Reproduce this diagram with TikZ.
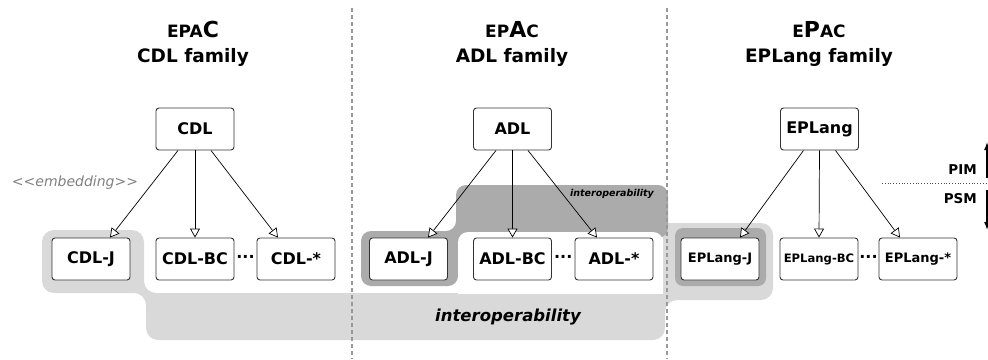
\documentclass[tikz,border=0pt]{standalone}
\usepackage{fontspec}
\setmainfont{DejaVu Sans}
\usetikzlibrary{arrows.meta,calc}

\colorlet{lightfill}{black!15}
\colorlet{darkfill}{black!33}
\colorlet{sepline}{black!40}

\newcommand{\fsz}[1]{\fontsize{#1}{#1}\selectfont}

\begin{document}
\begin{tikzpicture}[x=1pt,y=-1pt,
  langbox/.style={draw=black!80, line width=0.9pt, rounded corners=3pt, fill=white,
    minimum width=78pt, minimum height=42pt, inner sep=0pt, font=\bfseries\fsz{16}},
  smallbox/.style={langbox, font=\bfseries\fsz{13}},
  tinybox/.style={langbox, font=\bfseries\fsz{11.6}},
  gen/.style={line width=0.7pt, -{Triangle[length=9pt,width=10pt,fill=white]}},
  sep/.style={draw=sepline, line width=1.8pt, dash pattern=on 4pt off 3pt},
  ttl/.style={anchor=base, font=\bfseries, inner sep=0pt},
  dots/.style={font=\bfseries\fsz{16}, inner sep=0pt},
]
\useasboundingbox (0,0) rectangle (988,359);

% light interoperability region (CDL-J, band, EPLang-J)
\fill[lightfill, rounded corners=12pt]
  (42,230) -- (144,230) -- (144,293) -- (663,293) [sharp corners] -- (663,223)
  [rounded corners=12pt] -- (773,223) -- (773,300) -- (665,300) -- (665,340)
  -- (146,340) -- (146,293) -- (42,293) -- cycle;

% dark interoperability region (ADL-J and upper band)
\fill[darkfill, rounded corners=10pt]
  (361,286) -- (361,231) -- (456,231) -- (456,185) -- (668,185) -- (668,238)
  -- (458,238) -- (458,286) -- cycle;
\begin{scope}
  \clip (0,0) rectangle (988,293);
  \fill[white, rounded corners=10pt] (458,232) rectangle (663,320);
\end{scope}
\fill[darkfill, rounded corners=8pt] (675,228) rectangle (766,286);

% separators between the families
\draw[sep] (352,8) -- (352,359);
\draw[sep] (667,8) -- (667,359);

% titles
\node[ttl] (t1a) at (193,37) {{\fsz{17}EPA}{\fsz{22}C}};
\node[ttl, font=\bfseries\fsz{18.5}] (t1b) at (193,62) {CDL family};
\node[ttl] (t2a) at (512,37) {{\fsz{17}EP}{\fsz{22}A}{\fsz{17}C}};
\node[ttl, font=\bfseries\fsz{18.5}] (t2b) at (512,62) {ADL family};
\node[ttl] (t3a) at (819,37) {{\fsz{17}E}{\fsz{22}P}{\fsz{17}AC}};
\node[ttl, font=\bfseries\fsz{18.5}] (t3b) at (819,62) {EPLang family};

% language boxes
\node[langbox] (CDL) at (195,129) {CDL};
\node[langbox] (ADL) at (512.5,129) {ADL};
\node[langbox] (EPL) at (819.5,129) {EPLang};

\node[langbox] (CDLJ) at (91,259) {CDL-J};
\node[langbox] (CDLBC) at (195,259) {CDL-BC};
\node[langbox] (CDLS) at (296,259) {CDL-*};
\node[langbox] (ADLJ) at (408.5,259) {ADL-J};
\node[langbox] (ADLBC) at (512.5,259) {ADL-BC};
\node[langbox] (ADLS) at (614,259) {ADL-*};
\node[smallbox] (EPLJ) at (720,259) {EPLang-J};
\node[tinybox] (EPLBC) at (819,259) {EPLang-BC};
\node[smallbox] (EPLS) at (918,259) {EPLang-*};

\node[dots] (d1) at ($(CDLBC.east)!0.5!(CDLS.west)$) {···};
\node[dots] (d2) at ($(ADLBC.east)!0.5!(ADLS.west)$) {···};
\node[dots] (d3) at ($(EPLBC.east)!0.5!(EPLS.west)$) {···};

% generalisation arrows
\draw[gen] ([xshift=-17pt]CDL.south) -- ([xshift=19pt]CDLJ.north);
\draw[gen] (CDL.south) -- (CDLBC.north);
\draw[gen] ([xshift=16pt]CDL.south) -- ([xshift=-18pt]CDLS.north);
\draw[gen] ([xshift=-16.5pt]ADL.south) -- ([xshift=19.5pt]ADLJ.north);
\draw[gen] (ADL.south) -- (ADLBC.north);
\draw[gen] ([xshift=15.5pt]ADL.south) -- ([xshift=-17pt]ADLS.north);
\draw[gen] ([xshift=-16pt]EPL.south) -- ([xshift=20pt]EPLJ.north);
\draw[gen] (EPL.south) -- (EPLBC.north);
\draw[gen] ([xshift=16pt]EPL.south) -- ([xshift=-18pt]EPLS.north);

% labels
\node[font=\itshape\fsz{14}, text=black!50, inner sep=0pt] (emb) at (75,183) {<{}<embedding>{}>};
\node[font=\bfseries\itshape\fsz{9.5}, inner sep=0pt] (io1) at (612,194) {interoperability};
\node[font=\bfseries\itshape\fsz{16.5}, inner sep=0pt] (io2) at (508,317) {interoperability};

% PIM / PSM levels
\coordinate (lvA) at (882,183);
\coordinate (lvB) at (990,183);
\draw[black!70, line width=0.8pt, dotted] (lvA) -- (lvB);
\node[font=\bfseries\fsz{13.5}, anchor=east, inner sep=0pt] (pim) at (977,170) {PIM};
\node[font=\bfseries\fsz{13.5}, anchor=east, inner sep=0pt] (psm) at (977,199) {PSM};
\coordinate (upA) at (987,178);
\coordinate (upB) at (987,142);
\coordinate (dnA) at (987,190);
\coordinate (dnB) at (987,230);
\draw[line width=1.4pt, -{Latex[length=8pt,width=6pt]}] (upA) -- (upB);
\draw[line width=1.4pt, -{Latex[length=8pt,width=6pt]}] (dnA) -- (dnB);
\end{tikzpicture}
\end{document}
